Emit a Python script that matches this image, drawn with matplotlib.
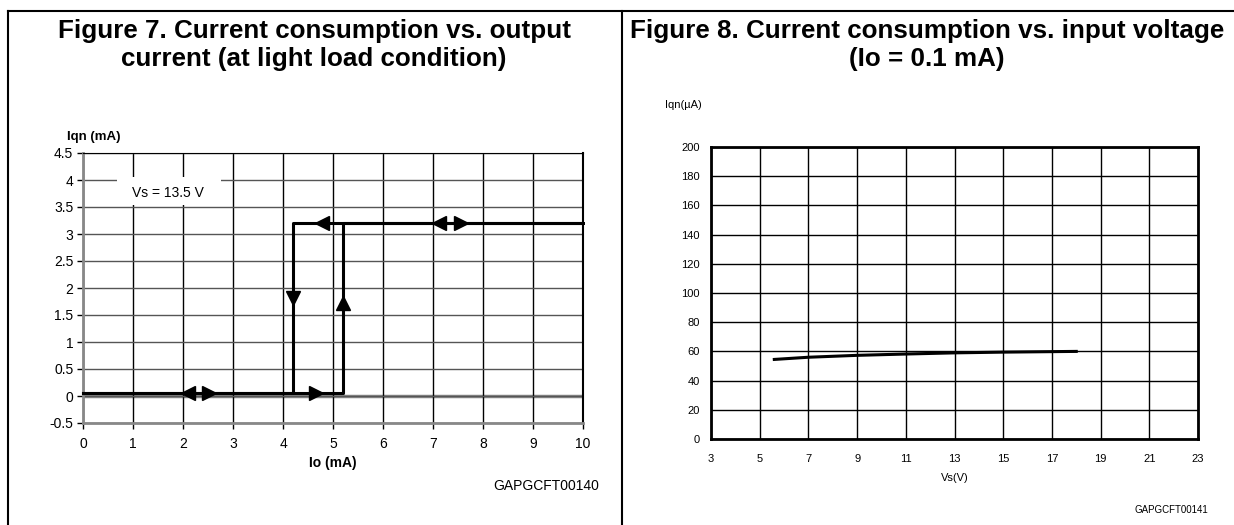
import matplotlib.pyplot as plt
from matplotlib import font_manager
from matplotlib.patches import Rectangle

plt.rcParams['font.family'] = ['Liberation Sans', 'DejaVu Sans']

# Figure 7 data: hysteresis of Iqn vs Io at Vs = 13.5 V
io_path = [0, 5.2, 5.2, 10, 10, 4.2, 4.2, 0]
iqn_path = [0.05, 0.05, 3.2, 3.2, 3.2, 3.2, 0.05, 0.05]
# arrow markers along the path (x, y, marker)
arrow_x = [2.1, 2.52, 4.66, 4.78, 7.12, 7.56, 4.2, 5.2]
arrow_y = [0.05, 0.05, 0.05, 3.2, 3.2, 3.2, 1.82, 1.72]
arrow_m = ['<', '>', '>', '<', '<', '>', 'v', '^']

# Figure 8 data: Iqn vs Vs at Io = 0.1 mA
vs = [5.6, 7, 9, 11, 13, 15, 18]
iqn_ua = [54.5, 56.0, 57.3, 58.2, 59.0, 59.5, 60.0]

W, H = 1234, 525
fig = plt.figure(figsize=(W / 100, H / 100), dpi=100)


def fx(px):
    return px / W


def fy(py):
    return 1 - py / H


# outer frame and panel separator
fig.add_artist(plt.Line2D([fx(8), fx(1234)], [fy(11), fy(11)], color='black', lw=1.5))
fig.add_artist(plt.Line2D([fx(8), fx(8)], [fy(11), 0], color='black', lw=1.5))
fig.add_artist(plt.Line2D([fx(622), fx(622)], [fy(11), 0], color='black', lw=1.5))

names = {f.name for f in font_manager.fontManager.ttflist}
if 'Liberation Sans Narrow' in names:
    title_kw = dict(family='Liberation Sans Narrow', fontsize=22.5)
else:
    title_kw = dict(family='Liberation Sans', fontsize=18.7)
title_kw.update(fontweight='bold', ha='center', va='center')
fig.text(fx(314), fy(31), 'Figure 7. Current consumption vs. output', **title_kw)
fig.text(fx(314), fy(59), 'current (at light load condition)', **title_kw)
fig.text(fx(927), fy(31), 'Figure 8. Current consumption vs. input voltage', **title_kw)
fig.text(fx(927), fy(59), '(Io = 0.1 mA)', **title_kw)

# ---------- Figure 7 ----------
ax1 = fig.add_axes([fx(83), fy(423), fx(583 - 83), (423 - 153) / H])
ax1.set_xlim(0, 10)
ax1.set_ylim(-0.5, 4.5)
ax1.set_xticks(range(0, 11))
ax1.set_yticks([-0.5, 0, 0.5, 1, 1.5, 2, 2.5, 3, 3.5, 4, 4.5])
ax1.set_yticklabels(['-0.5', '0', '0.5', '1', '1.5', '2', '2.5', '3', '3.5', '4', '4.5'])
ax1.grid(True, axis='x', color='black', lw=1)
ax1.grid(True, axis='y', color='#555555', lw=1)
ax1.axhline(0, color='#888888', lw=2.5, zorder=1.5)
ax1.tick_params(labelsize=10, length=4, width=1, direction='out')
ax1.tick_params(axis='x', pad=6)
ax1.tick_params(axis='y', pad=3)
for s in ['left', 'bottom']:
    ax1.spines[s].set_color('#888888')
    ax1.spines[s].set_linewidth(2)
ax1.spines['top'].set_color('black')
ax1.spines['right'].set_color('black')
ax1.spines['right'].set_linewidth(1.5)
ax1.add_patch(Rectangle((0.68, 3.54), 2.08, 0.52, facecolor='white', edgecolor='none', zorder=2))
ax1.text(1.7, 3.76, 'Vs = 13.5 V', fontsize=10, ha='center', va='center', zorder=3)
ax1.plot(io_path, iqn_path, color='black', lw=2.2, zorder=4, clip_on=False)
for x, y, m in zip(arrow_x, arrow_y, arrow_m):
    ax1.plot(x, y, marker=m, color='black', markersize=9.5, zorder=5)
ax1.set_xlabel('Io (mA)', fontsize=10, fontweight='bold', labelpad=4)
ax1.text(-0.32, 4.68, 'Iqn (mA)', fontsize=9.5, fontweight='bold', ha='left', va='bottom')
fig.text(fx(599), fy(486), 'GAPGCFT00140', fontsize=10, ha='right', va='center')

# ---------- Figure 8 ----------
ax2 = fig.add_axes([fx(711), fy(439), fx(1198 - 711), (439 - 147) / H])
ax2.set_xlim(3, 23)
ax2.set_ylim(0, 200)
ax2.set_xticks(range(3, 24, 2))
ax2.set_yticks(range(0, 201, 20))
ax2.grid(True, color='black', lw=1)
ax2.tick_params(labelsize=8, length=0)
ax2.tick_params(axis='x', pad=11)
ax2.tick_params(axis='y', pad=8)
for s in ax2.spines.values():
    s.set_color('black')
    s.set_linewidth(2)
ax2.plot(vs, iqn_ua, color='black', lw=2.2, zorder=4)
ax2.set_xlabel('Vs(V)', fontsize=8, labelpad=6)
fig.text(fx(665), fy(105), 'Iqn(µA)', fontsize=8, ha='left', va='center')
fig.text(fx(1208), fy(510), 'GAPGCFT00141', fontsize=7, ha='right', va='center')

plt.savefig('out.png', dpi=100)
